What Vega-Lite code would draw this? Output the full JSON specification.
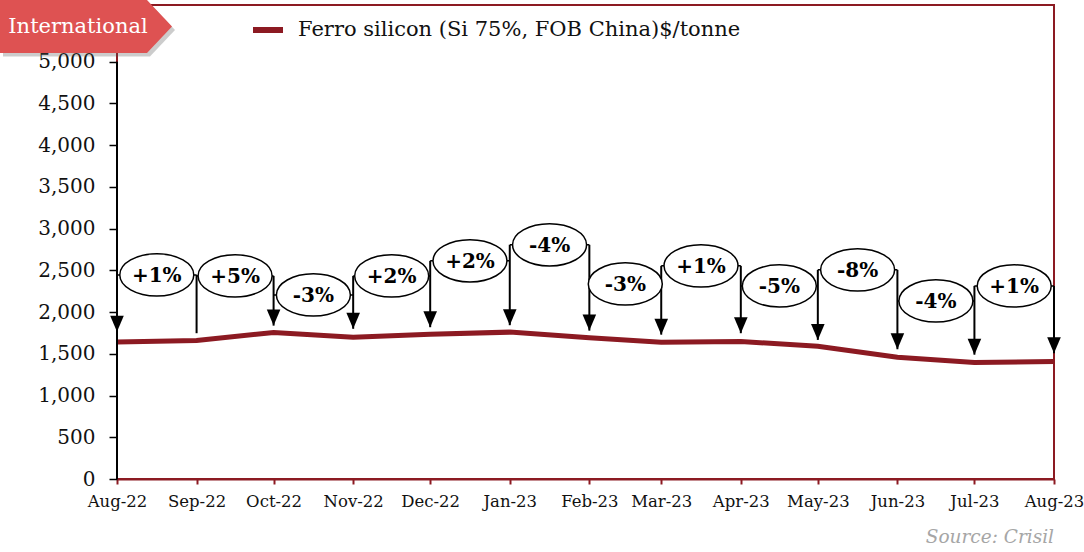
{
  "$schema": "https://vega.github.io/schema/vega-lite/v6.json",
  "width": 937,
  "height": 474,
  "autosize": {"type": "none"},
  "padding": {"left": 117, "top": 5, "right": 30, "bottom": 73},
  "background": "white",
  "config": {
    "font": "DejaVu Serif",
    "view": {"stroke": "#8C1A22", "strokeWidth": 2}
  },
  "title": {
    "text": "Source: Crisil",
    "orient": "bottom",
    "anchor": "end",
    "frame": "group",
    "font": "DejaVu Serif",
    "fontStyle": "italic",
    "fontWeight": "normal",
    "fontSize": 18.5,
    "color": "#a6a6a6",
    "offset": 18
  },
  "datasets": {
    "prices": [
      {"month": "2022-08-01T00:00:00", "price": 1643, "series": "Ferro silicon (Si 75%, FOB China)$/tonne"},
      {"month": "2022-09-01T00:00:00", "price": 1660, "series": "Ferro silicon (Si 75%, FOB China)$/tonne"},
      {"month": "2022-10-01T00:00:00", "price": 1755, "series": "Ferro silicon (Si 75%, FOB China)$/tonne"},
      {"month": "2022-11-01T00:00:00", "price": 1700, "series": "Ferro silicon (Si 75%, FOB China)$/tonne"},
      {"month": "2022-12-01T00:00:00", "price": 1735, "series": "Ferro silicon (Si 75%, FOB China)$/tonne"},
      {"month": "2023-01-01T00:00:00", "price": 1760, "series": "Ferro silicon (Si 75%, FOB China)$/tonne"},
      {"month": "2023-02-01T00:00:00", "price": 1694, "series": "Ferro silicon (Si 75%, FOB China)$/tonne"},
      {"month": "2023-03-01T00:00:00", "price": 1640, "series": "Ferro silicon (Si 75%, FOB China)$/tonne"},
      {"month": "2023-04-01T00:00:00", "price": 1648, "series": "Ferro silicon (Si 75%, FOB China)$/tonne"},
      {"month": "2023-05-01T00:00:00", "price": 1590, "series": "Ferro silicon (Si 75%, FOB China)$/tonne"},
      {"month": "2023-06-01T00:00:00", "price": 1460, "series": "Ferro silicon (Si 75%, FOB China)$/tonne"},
      {"month": "2023-07-01T00:00:00", "price": 1395, "series": "Ferro silicon (Si 75%, FOB China)$/tonne"},
      {"month": "2023-08-01T00:00:00", "price": 1408, "series": "Ferro silicon (Si 75%, FOB China)$/tonne"}
    ],
    "arrows": [
      {"month": "2022-08-01T00:00:00", "top": 2446, "tip": 1766, "head": true},
      {"month": "2022-09-01T00:00:00", "top": 2446, "tip": 1747, "head": false},
      {"month": "2022-10-01T00:00:00", "top": 2434, "tip": 1838, "head": true},
      {"month": "2022-11-01T00:00:00", "top": 2434, "tip": 1800, "head": true},
      {"month": "2022-12-01T00:00:00", "top": 2614, "tip": 1819, "head": true},
      {"month": "2023-01-01T00:00:00", "top": 2806, "tip": 1843, "head": true},
      {"month": "2023-02-01T00:00:00", "top": 2806, "tip": 1778, "head": true},
      {"month": "2023-03-01T00:00:00", "top": 2554, "tip": 1730, "head": true},
      {"month": "2023-04-01T00:00:00", "top": 2554, "tip": 1747, "head": true},
      {"month": "2023-05-01T00:00:00", "top": 2506, "tip": 1667, "head": true},
      {"month": "2023-06-01T00:00:00", "top": 2506, "tip": 1555, "head": true},
      {"month": "2023-07-01T00:00:00", "top": 2314, "tip": 1490, "head": true},
      {"month": "2023-08-01T00:00:00", "top": 2314, "tip": 1507, "head": true}
    ],
    "changes": [
      {"start": "2022-08-01T00:00:00", "end": "2022-09-01T00:00:00", "mid": "2022-08-16T12:00:00", "level": 2446, "label": "+1%"},
      {"start": "2022-09-01T00:00:00", "end": "2022-10-01T00:00:00", "mid": "2022-09-16T00:00:00", "level": 2434, "label": "+5%"},
      {"start": "2022-10-01T00:00:00", "end": "2022-11-01T00:00:00", "mid": "2022-10-16T12:00:00", "level": 2206, "label": "-3%"},
      {"start": "2022-11-01T00:00:00", "end": "2022-12-01T00:00:00", "mid": "2022-11-16T00:00:00", "level": 2434, "label": "+2%"},
      {"start": "2022-12-01T00:00:00", "end": "2023-01-01T00:00:00", "mid": "2022-12-16T12:00:00", "level": 2614, "label": "+2%"},
      {"start": "2023-01-01T00:00:00", "end": "2023-02-01T00:00:00", "mid": "2023-01-16T12:00:00", "level": 2806, "label": "-4%"},
      {"start": "2023-02-01T00:00:00", "end": "2023-03-01T00:00:00", "mid": "2023-02-15T00:00:00", "level": 2338, "label": "-3%"},
      {"start": "2023-03-01T00:00:00", "end": "2023-04-01T00:00:00", "mid": "2023-03-16T12:00:00", "level": 2554, "label": "+1%"},
      {"start": "2023-04-01T00:00:00", "end": "2023-05-01T00:00:00", "mid": "2023-04-16T00:00:00", "level": 2314, "label": "-5%"},
      {"start": "2023-05-01T00:00:00", "end": "2023-06-01T00:00:00", "mid": "2023-05-16T12:00:00", "level": 2506, "label": "-8%"},
      {"start": "2023-06-01T00:00:00", "end": "2023-07-01T00:00:00", "mid": "2023-06-16T00:00:00", "level": 2134, "label": "-4%"},
      {"start": "2023-07-01T00:00:00", "end": "2023-08-01T00:00:00", "mid": "2023-07-16T12:00:00", "level": 2314, "label": "+1%"}
    ],
    "badge": [{"label": "International"}]
  },
  "encoding": {
    "x": {
      "type": "temporal",
      "scale": {"domain": [{"year": 2022, "month": 8, "date": 1}, {"year": 2023, "month": 8, "date": 1}], "nice": false}
    }
  },
  "layer": [
    {
      "data": {"name": "prices"},
      "mark": {"type": "line", "strokeWidth": 5, "strokeCap": "butt"},
      "encoding": {
        "x": {
          "field": "month",
          "type": "temporal",
          "axis": {
            "title": null,
            "format": "%b-%y",
            "tickCount": {"interval": "month", "step": 1},
            "labelFlush": false,
            "labelOverlap": false,
            "grid": false,
            "domainColor": "#8C1A22",
            "domainWidth": 2,
            "tickColor": "#8C1A22",
            "tickWidth": 2,
            "tickSize": 5,
            "labelFontSize": 16.5,
            "labelColor": "#111111",
            "labelPadding": 9,
            "labelFont": "DejaVu Serif"
          }
        },
        "y": {
          "field": "price",
          "type": "quantitative",
          "scale": {"domain": [0, 5680], "nice": false},
          "axis": {
            "title": null,
            "values": [0, 500, 1000, 1500, 2000, 2500, 3000, 3500, 4000, 4500, 5000],
            "format": ",.0f",
            "grid": false,
            "domain": false,
            "tickColor": "#000000",
            "tickWidth": 1.5,
            "tickSize": 8,
            "labelFontSize": 20,
            "labelColor": "#111111",
            "labelPadding": 14,
            "labelFont": "DejaVu Serif"
          }
        },
        "color": {
          "field": "series",
          "type": "nominal",
          "scale": {"range": ["#8C1A22"]},
          "legend": {
            "title": null,
            "orient": "none",
            "legendX": 133,
            "legendY": 7,
            "symbolType": "stroke",
            "symbolStrokeWidth": 6,
            "symbolSize": 900,
            "labelFontSize": 21,
            "labelFont": "DejaVu Serif",
            "labelColor": "#111111",
            "labelOffset": 12,
            "labelLimit": 700
          }
        }
      }
    },
    {
      "data": {"values": [{"a": 0}]},
      "mark": {"type": "rule", "color": "#000000", "strokeWidth": 2},
      "encoding": {
        "x": {"datum": {"year": 2022, "month": 8, "date": 1}, "type": "temporal"},
        "y": {"datum": 0, "type": "quantitative"},
        "y2": {"datum": 5000}
      }
    },
    {
      "data": {"name": "changes"},
      "mark": {"type": "rule", "color": "#000000", "strokeWidth": 1.5},
      "encoding": {
        "x": {"field": "start", "type": "temporal"},
        "x2": {"field": "end"},
        "y": {"field": "level", "type": "quantitative"}
      }
    },
    {
      "data": {"name": "arrows"},
      "mark": {"type": "rule", "color": "#000000", "strokeWidth": 2},
      "encoding": {
        "x": {"field": "month", "type": "temporal"},
        "y": {"field": "top", "type": "quantitative"},
        "y2": {"field": "tip"}
      }
    },
    {
      "data": {"name": "arrows"},
      "transform": [{"filter": "datum.head"}],
      "mark": {"type": "point", "shape": "M-0.85,-2L0.85,-2L0,0Z", "filled": true, "color": "#000000", "opacity": 1, "size": 256},
      "encoding": {
        "x": {"field": "month", "type": "temporal"},
        "y": {"field": "tip", "type": "quantitative"}
      }
    },
    {
      "data": {"name": "changes"},
      "mark": {"type": "point", "shape": "M-1,0A1,0.57 0 1,1 1,0A1,0.57 0 1,1 -1,0Z", "filled": true, "fill": "#ffffff", "stroke": "#000000", "strokeWidth": 1.5, "opacity": 1, "strokeOpacity": 1, "fillOpacity": 1, "size": 5476},
      "encoding": {
        "x": {"field": "mid", "type": "temporal"},
        "y": {"field": "level", "type": "quantitative"}
      }
    },
    {
      "data": {"name": "changes"},
      "mark": {"type": "text", "font": "DejaVu Serif", "fontWeight": "bold", "fontSize": 20, "color": "#000000", "baseline": "middle", "align": "center", "dy": 1},
      "encoding": {
        "x": {"field": "mid", "type": "temporal"},
        "y": {"field": "level", "type": "quantitative"},
        "text": {"field": "label"}
      }
    },
    {
      "data": {"name": "badge"},
      "mark": {"type": "point", "shape": "M-1,-0.308L0.709,-0.308L1,0L0.709,0.308L-1,0.308Z", "filled": true, "color": "#555555", "opacity": 0.3, "size": 29584, "xOffset": -28, "yOffset": 25},
      "encoding": {
        "x": {"datum": {"year": 2022, "month": 8, "date": 1}, "type": "temporal"},
        "y": {"datum": 5680, "type": "quantitative"}
      }
    },
    {
      "data": {"name": "badge"},
      "mark": {"type": "point", "shape": "M-1,-0.308L0.709,-0.308L1,0L0.709,0.308L-1,0.308Z", "filled": true, "color": "#DE5252", "opacity": 1, "size": 29584, "xOffset": -31, "yOffset": 21.5},
      "encoding": {
        "x": {"datum": {"year": 2022, "month": 8, "date": 1}, "type": "temporal"},
        "y": {"datum": 5680, "type": "quantitative"}
      }
    },
    {
      "data": {"name": "badge"},
      "mark": {"type": "text", "font": "DejaVu Serif", "fontSize": 21, "color": "#ffffff", "align": "center", "baseline": "middle", "xOffset": -39, "yOffset": 22},
      "encoding": {
        "x": {"datum": {"year": 2022, "month": 8, "date": 1}, "type": "temporal"},
        "y": {"datum": 5680, "type": "quantitative"},
        "text": {"field": "label"}
      }
    }
  ]
}
